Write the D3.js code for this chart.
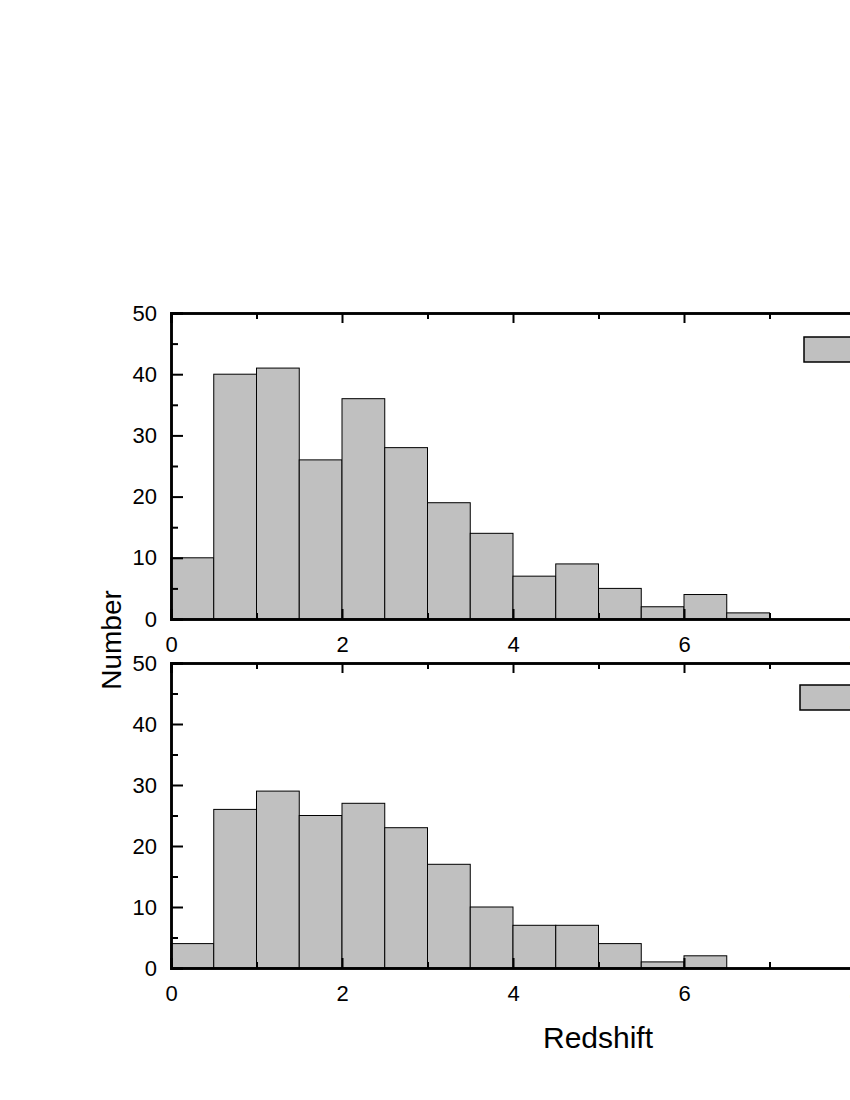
<!DOCTYPE html>
<html><head><meta charset="utf-8">
<script src="https://cdn.jsdelivr.net/npm/d3@7"></script>
<style>body{margin:0;background:#fff}svg{display:block}</style>
</head><body>
<script>
const binStarts = [0,0.5,1,1.5,2,2.5,3,3.5,4,4.5,5,5.5,6,6.5,7,7.5];
const topCounts = [10,40,41,26,36,28,19,14,7,9,5,2,4,1,0,0];
const bottomCounts = [4,26,29,25,27,23,17,10,7,7,4,1,2,0,0,0];
const xTicks = [0,2,4,6,8];
const xMinor = [1,3,5,7];
const yTicks = [0,10,20,30,40,50];
const yMinor = [5,15,25,35,45];
const binWidth = 0.5;

const W = 850, H = 1100;
const svg = d3.select("body").append("svg").attr("width", W).attr("height", H);
const font = "'Liberation Sans', Arial, sans-serif";

const x = d3.scaleLinear().domain([0, 8]).range([171, 855]);

function panel(counts, yTop, yBot, legendX, legendY) {
  const y = d3.scaleLinear().domain([0, 50]).range([yBot, yTop]);
  const g = svg.append("g");
  g.selectAll("rect.bar").data(binStarts.map((b, i) => ({b, c: counts[i]})).filter(d => d.c > 0))
    .enter().append("rect").attr("class", "bar")
    .attr("x", d => x(d.b)).attr("width", d => x(d.b + binWidth) - x(d.b))
    .attr("y", d => y(d.c)).attr("height", d => y(0) - y(d.c))
    .attr("fill", "#c0c0c0").attr("stroke", "#000").attr("stroke-width", 1);

  const bAx = g.append("g").attr("transform", `translate(0,${yBot})`)
    .call(d3.axisBottom(x).tickValues(xTicks).tickSize(-10).tickPadding(17).tickFormat(d3.format("d")));
  const bMin = g.append("g").attr("transform", `translate(0,${yBot})`)
    .call(d3.axisBottom(x).tickValues(xMinor).tickSize(-6).tickFormat(""));
  const tAx = g.append("g").attr("transform", `translate(0,${yTop})`)
    .call(d3.axisTop(x).tickValues(xTicks).tickSize(-10).tickFormat(""));
  const tMin = g.append("g").attr("transform", `translate(0,${yTop})`)
    .call(d3.axisTop(x).tickValues(xMinor).tickSize(-6).tickFormat(""));
  const lAx = g.append("g").attr("transform", `translate(171,0)`)
    .call(d3.axisLeft(y).tickValues(yTicks).tickSize(-12).tickPadding(14).tickFormat(d3.format("d")));
  const lMin = g.append("g").attr("transform", `translate(171,0)`)
    .call(d3.axisLeft(y).tickValues(yMinor).tickSize(-7).tickFormat(""));

  [bAx, bMin, tAx, tMin, lAx, lMin].forEach(a => {
    a.attr("font-size", null).attr("font-family", null);
    a.selectAll(".domain").attr("stroke", "#000").attr("stroke-width", 2.5);
    a.selectAll(".tick line").attr("stroke", "#000").attr("stroke-width", 2);
    a.selectAll("text").style("font-family", font).style("font-size", "22px").attr("fill", "#000");
  });

  g.append("rect").attr("x", legendX).attr("y", legendY).attr("width", 80).attr("height", 25)
    .attr("fill", "#c0c0c0").attr("stroke", "#000").attr("stroke-width", 1.5);
}

panel(topCounts, 313, 619, 804, 337);
panel(bottomCounts, 663, 968, 800, 685);

svg.append("text").attr("transform", "translate(121,640) rotate(-90)")
  .attr("text-anchor", "middle").style("font-family", font).style("font-size", "28px").text("Number");
svg.append("text").attr("x", 598).attr("y", 1048)
  .attr("text-anchor", "middle").style("font-family", font).style("font-size", "30px").text("Redshift");
</script>
</body></html>
